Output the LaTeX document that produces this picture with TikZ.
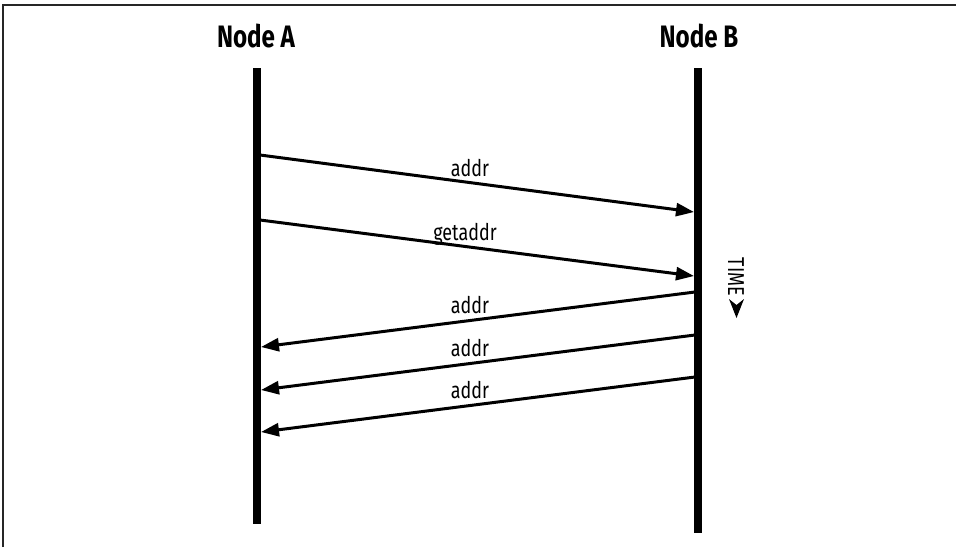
\documentclass[tikz,border=0pt]{standalone}
\usepackage{fontspec}
\setmainfont[FakeStretch=0.78]{Fira Sans}
\usetikzlibrary{arrows.meta}
\begin{document}
\begin{tikzpicture}[x=1pt,y=-1pt,
  lifeline/.style={line width=7.5pt},
  msg/.style={line width=3pt,-{Triangle[length=18pt,width=13pt]}},
  head/.style={font=\bfseries\fontsize{31}{34}\selectfont},
  lbl/.style={font=\fontsize{23}{26}\selectfont, inner sep=0pt},
  frameline/.style={draw=black!85,line width=1.5pt}]
\useasboundingbox (0,0) rectangle (956,547);
\draw[frameline] (3,547) -- (3,5) -- (956,5);
% headings
\node[head] (hA) at (256,36) {Node A};
\node[head] (hB) at (699,36) {Node B};
% lifelines
\coordinate (Atop) at (257,68);
\coordinate (Abot) at (257,524);
\coordinate (Btop) at (698,68);
\coordinate (Bbot) at (698,533);
\draw[lifeline] (Atop) -- (Abot);
\draw[lifeline] (Btop) -- (Bbot);
% message endpoints
\coordinate (a1) at (260,155); \coordinate (b1) at (694,212);
\coordinate (a2) at (260,220); \coordinate (b2) at (694,276);
\coordinate (b3) at (695,292); \coordinate (a3) at (261,347);
\coordinate (b4) at (695,335); \coordinate (a4) at (261,390);
\coordinate (b5) at (695,377); \coordinate (a5) at (261,432);
\draw[msg] (a1) -- (b1);
\draw[msg] (a2) -- (b2);
\draw[msg] (b3) -- (a3);
\draw[msg] (b4) -- (a4);
\draw[msg] (b5) -- (a5);
% labels
\node[lbl] (l1) at (470,168) {addr};
\node[lbl] (l2) at (465,234) {getaddr};
\node[lbl] (l3) at (470,305) {addr};
\node[lbl] (l4) at (470,348) {addr};
\node[lbl] (l5) at (470,390) {addr};
% time indicator
\node[lbl,rotate=-90] (time) at (736,277) {TIME};
\fill (729,299) -- (736.5,305) -- (744,299) -- (736.5,318) -- cycle;
\end{tikzpicture}
\end{document}
